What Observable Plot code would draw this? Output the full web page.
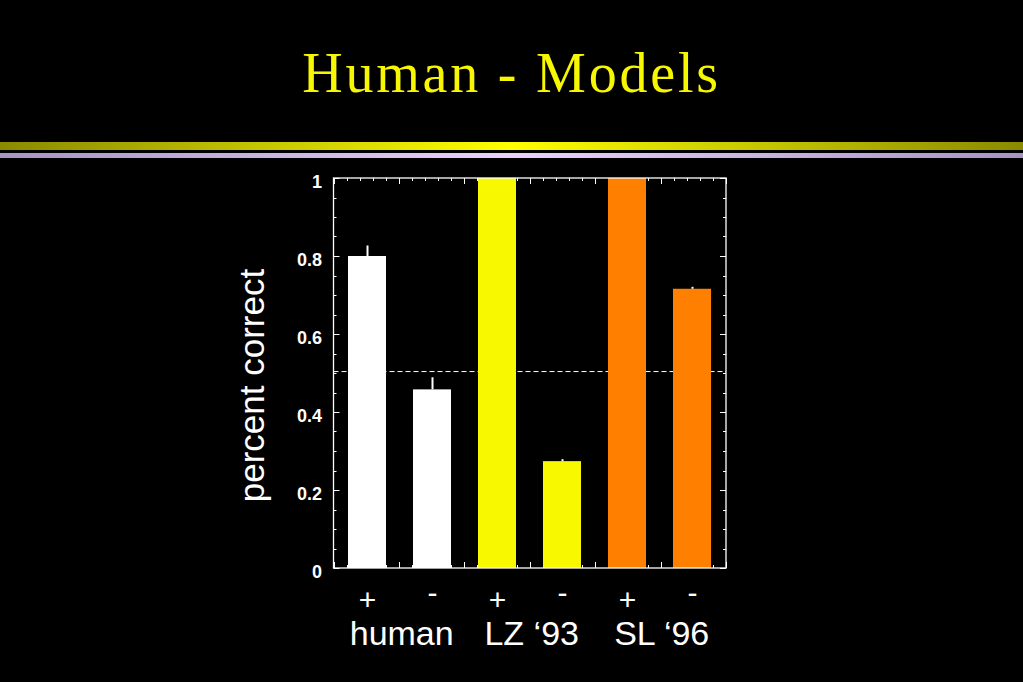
<!DOCTYPE html>
<html>
<head>
<meta charset="utf-8">
<script src="https://cdn.jsdelivr.net/npm/d3@7"></script>
<script src="https://cdn.jsdelivr.net/npm/@observablehq/plot@0.6"></script>
<style>
  html, body { margin: 0; padding: 0; background: #000; }
  #wrap { position: relative; width: 1023px; height: 682px; background: #000; overflow: hidden; }
  #title { position: absolute; left: 0; top: 45px; width: 1023px; text-align: center;
           font-family: "Liberation Serif", "DejaVu Serif", serif; font-size: 56px; letter-spacing: 2.8px;
           line-height: 1; color: #f7f700; }
  #stripe1 { position: absolute; left: 0; top: 142px; width: 1023px; height: 8px;
             background: linear-gradient(to right, #8a8a00, #ffff00 50%, #8a8a00); }
  #stripe2 { position: absolute; left: 0; top: 153px; width: 1023px; height: 5px;
             background: linear-gradient(to right, #a494c4, #ecd0fa 50%, #a494c4); }
  #chart { position: absolute; left: 0; top: 0; }
</style>
</head>
<body>
<div id="wrap">
  <div id="chart"></div>
  <div id="title">Human - Models</div>
  <div id="stripe1"></div>
  <div id="stripe2"></div>
</div>
<script>
// ---- data ----
const categories = ["human+", "human-", "LZ+", "LZ-", "SL+", "SL-"];
const groups = ["human", "human", "LZ ‘93", "LZ ‘93", "SL ‘96", "SL ‘96"];
const signs = ["+", "-", "+", "-", "+", "-"];
const values = [0.80, 0.458, 1.0, 0.274, 1.0, 0.716];
const errors = [0.027, 0.031, 0, 0.005, 0, 0.005];
const colors = ["#ffffff", "#ffffff", "#f8f800", "#f8f800", "#ff8000", "#ff8000"];
const chance = 0.505;
const yTicks = [0, 0.2, 0.4, 0.6, 0.8, 1];
const yLabel = "percent correct";

const rows = categories.map((c, i) => ({
  cat: c, group: groups[i], sign: signs[i], value: values[i],
  top: values[i] + errors[i], err: errors[i], color: colors[i]
}));

// ---- layout ----
const W = 1023, H = 682;
const mL = 333.5, mR = 297, mT = 178, mB = 114;
const step = (W - mL - mR) / categories.length;

function frameTicks(index, scales, values, dims) {
  const x0 = dims.marginLeft, x1 = dims.width - dims.marginRight;
  const y0 = dims.marginTop, y1 = dims.height - dims.marginBottom;
  const g = d3.create("svg:g").attr("stroke", "white").attr("fill", "none").attr("stroke-width", 1);
  const y = scales.y;
  d3.range(0, 21).forEach(k => {
    const v = k * 0.05;
    const major = k % 4 === 0;
    const len = major ? 6 : 3;
    const yy = Math.round(y(v)) + 0.5;
    g.append("line").attr("x1", x0).attr("x2", x0 + len).attr("y1", yy).attr("y2", yy);
    g.append("line").attr("x1", x1).attr("x2", x1 - len).attr("y1", yy).attr("y2", yy);
  });
  const n = categories.length * 5;
  d3.range(0, n + 1).forEach(i => {
    const xx = Math.round(x0 + i * step / 5) + 0.5;
    const major = i % 5 === 0;
    const len = major ? 6 : 3;
    g.append("line").attr("x1", xx).attr("x2", xx).attr("y1", y0).attr("y2", y0 + len);
    g.append("line").attr("x1", xx).attr("x2", xx).attr("y1", y1).attr("y2", y1 - len);
  });
  return g.node();
}

function frameBox(index, scales, values, dims) {
  const x0 = dims.marginLeft, x1 = dims.width - dims.marginRight;
  const y0 = dims.marginTop, y1 = dims.height - dims.marginBottom;
  const g = d3.create("svg:g");
  g.append("rect").attr("x", x0).attr("y", y0).attr("width", x1 - x0).attr("height", y1 - y0)
    .attr("fill", "none").attr("stroke", "white").attr("stroke-width", 1.3);
  return g.node();
}

const chart = Plot.plot({
  width: W, height: H,
  marginLeft: mL, marginRight: mR, marginTop: mT, marginBottom: mB,
  style: { background: "transparent", color: "white", fontFamily: "'Liberation Sans', Arial, sans-serif", overflow: "visible" },
  x: { type: "band", domain: categories, paddingInner: 0.42, paddingOuter: 0.21, axis: null },
  y: { domain: [0, 1], axis: null },
  color: { type: "identity" },
  marks: [
    frameTicks,
    Plot.ruleY([chance], { stroke: "white", strokeWidth: 1, strokeDasharray: "5,3" }),
    Plot.barY(rows, { x: "cat", y: "value", fill: "color" }),
    Plot.ruleX(rows.filter(d => d.err > 0), { x: "cat", y1: "value", y2: "top", stroke: "white", strokeWidth: 2 }),
    frameBox,
    Plot.axisY(yTicks, { tickSize: 0, tickPadding: 12, fontSize: 18, fontWeight: "bold", dy: 4,
      tickFormat: d => String(d), label: null }),
    Plot.text(rows.filter(d => d.sign === "+"), { x: "cat", text: "sign", frameAnchor: "bottom",
      lineAnchor: "top", dy: 20, fontSize: 30, fill: "white" }),
    Plot.text(rows.filter(d => d.sign === "-"), { x: "cat", text: "sign", frameAnchor: "bottom",
      lineAnchor: "top", dy: 13, fontSize: 30, fill: "white" }),
    Plot.text(rows.filter(d => d.sign === "+"), { x: "cat", text: "group", frameAnchor: "bottom",
      lineAnchor: "top", dy: 52, dx: step / 2 + 1.5, fontSize: 34, fill: "white" }),
    Plot.text([yLabel], { frameAnchor: "left", text: d => d, rotate: -90, dx: -81.5, dy: 12,
      textAnchor: "middle", lineAnchor: "middle", fontSize: 35, fill: "white" })
  ]
});
document.getElementById("chart").appendChild(chart);
</script>
</body>
</html>
